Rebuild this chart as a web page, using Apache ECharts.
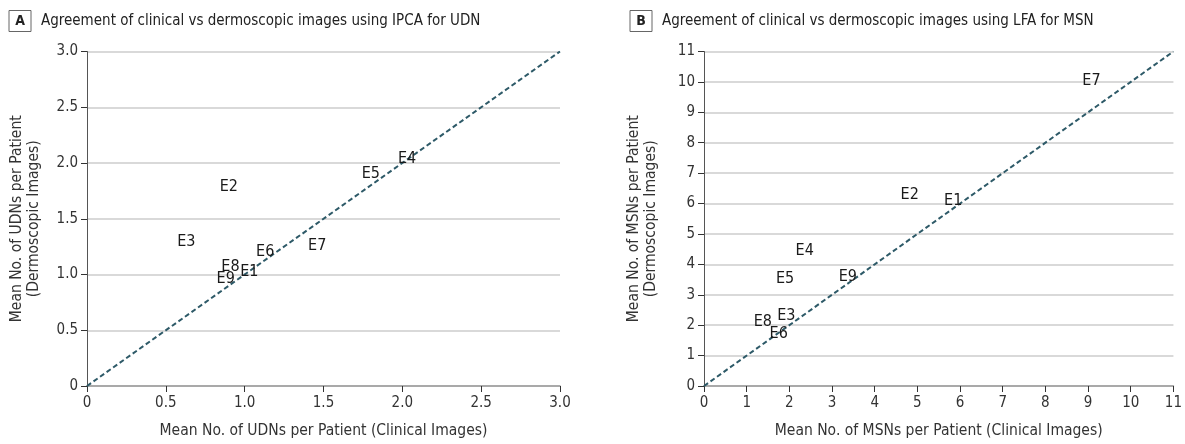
<!DOCTYPE html>
<html><head><meta charset="utf-8">
<script src="https://cdn.jsdelivr.net/npm/echarts@6/dist/echarts.min.js"></script>
<style>html,body{margin:0;padding:0;background:#fff}#c{width:1185px;height:444px}</style>
</head><body><div id="c"></div>
<script>
// Panel A: UDN (IPCA)
const labelsA = ['E1','E2','E3','E4','E5','E6','E7','E8','E9'];
const clinicalA = [1.03, 0.90, 0.63, 2.03, 1.80, 1.13, 1.46, 0.91, 0.88];
const dermoA    = [1.02, 1.79, 1.29, 2.04, 1.90, 1.20, 1.26, 1.07, 0.96];
const ticksA = [0, 0.5, 1.0, 1.5, 2.0, 2.5, 3.0];
// Panel B: MSN (LFA)
const labelsB = ['E1','E2','E3','E4','E5','E6','E7','E8','E9'];
const clinicalB = [5.84, 4.82, 1.93, 2.36, 1.90, 1.75, 9.08, 1.38, 3.37];
const dermoB    = [6.10, 6.27, 2.32, 4.44, 3.51, 1.70, 10.04, 2.12, 3.60];
const ticksB = [0,1,2,3,4,5,6,7,8,9,10,11];

const FONT = "'DejaVu Sans Condensed','Roboto',sans-serif";
const TXT = '#333';

function fmtA(v){ return v === 0 ? '0' : v.toFixed(1); }
function fmtB(v){ return String(v); }

function xAx(gi, max, interval, fmt, name){
  return {
    gridIndex: gi, type:'value', min:0, max:max, interval:interval,
    name:name, nameLocation:'middle', nameGap:37,
    nameTextStyle:{fontFamily:FONT, fontSize:15.5, color:TXT},
    axisLine:{show:true, lineStyle:{color:'#999', width:1.5}},
    axisTick:{show:true, length:6, lineStyle:{color:'#333', width:1}},
    axisLabel:{fontFamily:FONT, fontSize:15, color:TXT, margin:10, formatter:fmt},
    splitLine:{show:false}
  };
}
function yAx(gi, max, interval, fmt, name){
  return {
    gridIndex: gi, type:'value', min:0, max:max, interval:interval,
    name:name, nameLocation:'middle', nameGap:45, nameRotate:90,
    nameTextStyle:{fontFamily:FONT, fontSize:15.5, color:TXT, lineHeight:17},
    axisLine:{show:true, lineStyle:{color:'#555', width:1}},
    axisTick:{show:true, length:6, lineStyle:{color:'#333', width:1}},
    axisLabel:{fontFamily:FONT, fontSize:15, color:TXT, margin:9, formatter:fmt},
    splitLine:{show:true, lineStyle:{color:'#d9d9d9', width:2}}
  };
}
function pts(xs, ys, ls){ return xs.map((x,i)=>[x, ys[i], ls[i]]); }
function scatter(xi, data){
  return {
    type:'scatter', xAxisIndex:xi, yAxisIndex:xi, symbolSize:0,
    itemStyle:{color:'transparent'},
    data:data, z:5,
    label:{show:true, position:'inside', formatter:p=>p.data[2],
      fontFamily:FONT, fontSize:16, color:'#1a1a1a', opacity:1,
      textBorderWidth:0}
  };
}
function identity(xi, max){
  return {
    type:'line', xAxisIndex:xi, yAxisIndex:xi, data:[[0,0],[max,max]],
    symbol:'none', z:3, silent:true,
    lineStyle:{color:'#2e5a68', width:2, type:[5,3]}
  };
}
function title(x, letter, text){
  return [
    {type:'rect', shape:{x:x, y:10.5, width:22, height:21}, style:{fill:'#fff', stroke:'#666', lineWidth:1}},
    {type:'text', x:x+11, y:21, style:{text:letter, fontFamily:FONT, fontSize:14, fontWeight:'bold', fill:'#222', align:'center', verticalAlign:'middle'}},
    {type:'text', x:x+32, y:21, style:{text:text, fontFamily:FONT, fontSize:15, fill:'#222', align:'left', verticalAlign:'middle'}}
  ];
}

const chart = echarts.init(document.getElementById('c'), null, {renderer:'canvas'});
chart.setOption({
  animation:false,
  grid:[
    {left:87, top:51.5, width:473, height:336.5},
    {left:704, top:51.5, width:473, height:336.5}
  ],
  xAxis:[
    xAx(0, 3, 0.5, fmtA, 'Mean No. of UDNs per Patient (Clinical Images)'),
    xAx(1, 11, 1, fmtB, 'Mean No. of MSNs per Patient (Clinical Images)')
  ],
  yAxis:[
    yAx(0, 3, 0.5, fmtA, 'Mean No. of UDNs per Patient\n(Dermoscopic Images)'),
    yAx(1, 11, 1, fmtB, 'Mean No. of MSNs per Patient\n(Dermoscopic Images)')
  ],
  series:[
    identity(0, ticksA[ticksA.length-1]),
    identity(1, ticksB[ticksB.length-1]),
    scatter(0, pts(clinicalA, dermoA, labelsA)),
    scatter(1, pts(clinicalB, dermoB, labelsB))
  ],
  graphic: title(9, 'A', 'Agreement of clinical vs dermoscopic images using IPCA for UDN')
    .concat(title(630, 'B', 'Agreement of clinical vs dermoscopic images using LFA for MSN'))
});
</script></body></html>
